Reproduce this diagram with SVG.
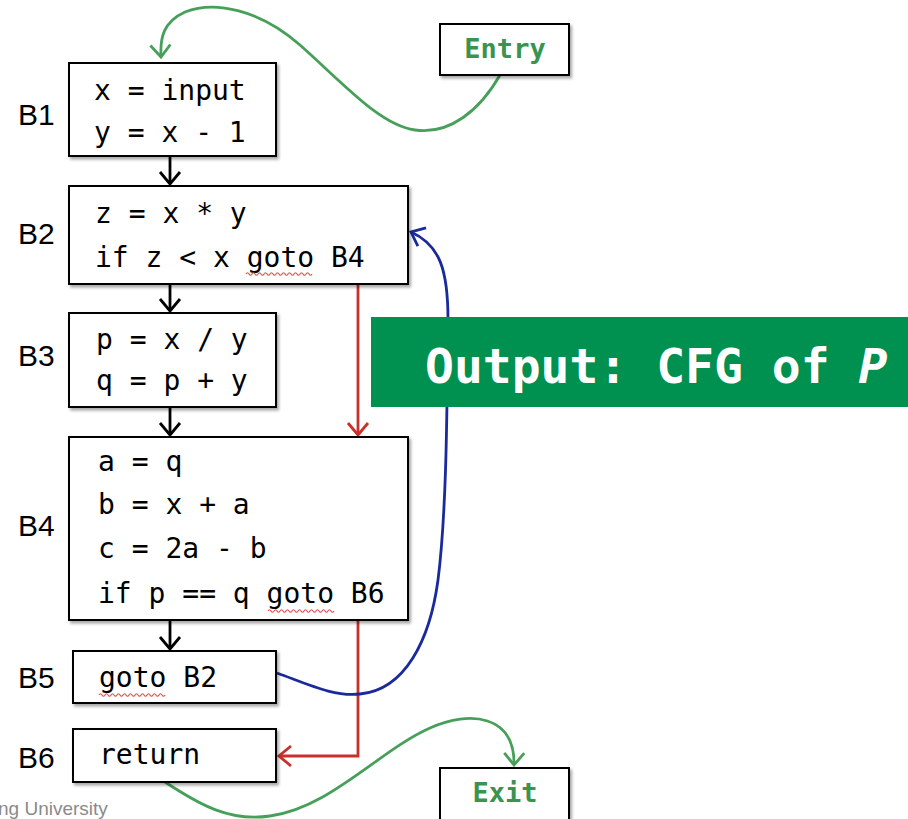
<svg xmlns="http://www.w3.org/2000/svg" width="908" height="819" viewBox="0 0 908 819">
  <style>
    .box { fill: #ffffff; stroke: #000000; stroke-width: 2; filter: url(#shadow); }
    .code { font-family: "DejaVu Sans Mono", "Liberation Mono", monospace; font-size: 28px; fill: #000000; }
    .lbl { font-family: "Liberation Sans", Arial, sans-serif; font-size: 30px; fill: #000000; }
    .term { font-family: "DejaVu Sans Mono", "Liberation Mono", monospace; font-size: 27px; font-weight: bold; fill: #3a944f; text-anchor: middle; }
    .squig { fill: none; stroke: #e0504a; stroke-width: 1.2; }
    .flow { fill: none; stroke: #000000; stroke-width: 2.8; marker-end: url(#ah-black); }
    .jump { fill: none; stroke: #c9302c; stroke-width: 2.8; marker-end: url(#ah-red); }
    .back { fill: none; stroke: #1a2a9c; stroke-width: 2.8; marker-end: url(#ah-blue); }
    .io { fill: none; stroke: #47a05a; stroke-width: 2.8; marker-end: url(#ah-green); }
  </style>
  <defs>
    <filter id="shadow" x="-10%" y="-10%" width="125%" height="130%">
      <feDropShadow dx="2" dy="2.5" stdDeviation="1.5" flood-color="#000000" flood-opacity="0.35"/>
    </filter>
    <marker id="ah-black" markerUnits="userSpaceOnUse" viewBox="-1 -1 16 24" refX="13" refY="11" markerWidth="16" markerHeight="24" orient="auto">
      <path d="M1,1 L13,11 L1,21" fill="none" stroke="#000000" stroke-width="2.8"/>
    </marker>
    <marker id="ah-red" markerUnits="userSpaceOnUse" viewBox="-1 -1 16 24" refX="13" refY="11" markerWidth="16" markerHeight="24" orient="auto">
      <path d="M1,1 L13,11 L1,21" fill="none" stroke="#c9302c" stroke-width="2.8"/>
    </marker>
    <marker id="ah-blue" markerUnits="userSpaceOnUse" viewBox="-1 -1 16 24" refX="13" refY="11" markerWidth="16" markerHeight="24" orient="auto">
      <path d="M1,1 L13,11 L1,21" fill="none" stroke="#1a2a9c" stroke-width="2.8"/>
    </marker>
    <marker id="ah-green" markerUnits="userSpaceOnUse" viewBox="-1 -1 16 24" refX="13" refY="11" markerWidth="16" markerHeight="24" orient="auto">
      <path d="M1,1 L13,11 L1,21" fill="none" stroke="#47a05a" stroke-width="2.8"/>
    </marker>
    <path id="wave" d="M0,0 q1.5,-2.5 3,0 t3,0 t3,0 t3,0 t3,0 t3,0 t3,0 t3,0 t3,0 t3,0 t3,0 t3,0 t3,0 t3,0 t3,0 t3,0 t3,0 t3,0 t3,0 t3,0 t3,0 t3,0"/>
  </defs>

  <!-- connectors -->
  <g id="connectors">
    <path class="flow" d="M170,156 L170,184"/>
    <path class="flow" d="M170,284 L170,311"/>
    <path class="flow" d="M170,407 L170,435"/>
    <path class="flow" d="M170,620 L170,649"/>
    <path class="jump" d="M358,285 L358,435"/>
    <path class="jump" d="M358,620 L358,756 L279,756"/>
    <path class="back" d="M277,673 C310,685 335,697 360,694 C405,690 430,640 438,580 C447,510 447,400 448,320 C448,270 440,245 411,232"/>
    <path class="io" d="M500,75 C480,110 450,135 415,130 C380,125 345,85 300,45 C260,10 215,0 185,12 C163,22 160,38 161,57"/>
    <path class="io" d="M165,782 C200,805 230,822 270,816 C330,808 380,750 430,728 C470,710 515,715 514,765"/>
  </g>

  <!-- terminal nodes -->
  <g id="entry">
    <rect class="box" x="440" y="24" width="129" height="51"/>
    <text class="term" x="505" y="58">Entry</text>
  </g>
  <g id="exit">
    <rect class="box" x="440" y="768" width="129" height="60"/>
    <text class="term" x="505" y="802">Exit</text>
  </g>

  <!-- basic blocks -->
  <g id="B1">
    <text class="lbl" x="18" y="125">B1</text>
    <rect class="box" x="69" y="63" width="207" height="93"/>
    <text class="code" x="94" y="100">x = input</text>
    <text class="code" x="94" y="142">y = x - 1</text>
  </g>
  <g id="B2">
    <text class="lbl" x="18" y="244">B2</text>
    <rect class="box" x="69" y="186" width="339" height="98"/>
    <text class="code" x="95" y="223">z = x * y</text>
    <text class="code" x="95" y="267">if z &lt; x goto B4</text>
    <use href="#wave" class="squig" x="246" y="274"/>
  </g>
  <g id="B3">
    <text class="lbl" x="18" y="366">B3</text>
    <rect class="box" x="69" y="313" width="207" height="94"/>
    <text class="code" x="96" y="349">p = x / y</text>
    <text class="code" x="96" y="390">q = p + y</text>
  </g>
  <g id="B4">
    <text class="lbl" x="18" y="536">B4</text>
    <rect class="box" x="69" y="437" width="339" height="183"/>
    <text class="code" x="98" y="471">a = q</text>
    <text class="code" x="98" y="514">b = x + a</text>
    <text class="code" x="98" y="558">c = 2a - b</text>
    <text class="code" x="98" y="603">if p == q goto B6</text>
    <use href="#wave" class="squig" x="268" y="611"/>
  </g>
  <g id="B5">
    <text class="lbl" x="18" y="688">B5</text>
    <rect class="box" x="73" y="651" width="203" height="52"/>
    <text class="code" x="99" y="687">goto B2</text>
    <use href="#wave" class="squig" x="99" y="695"/>
  </g>
  <g id="B6">
    <text class="lbl" x="18" y="768">B6</text>
    <rect class="box" x="73" y="729" width="203" height="53"/>
    <text class="code" x="99" y="764">return</text>
  </g>

  <!-- caption banner -->
  <g id="caption">
    <rect x="371" y="317" width="545" height="90" fill="#00904f"/>
    <text x="425" y="383" font-family="'DejaVu Sans Mono', 'Liberation Mono', monospace" font-size="48" font-weight="bold" fill="#ffffff">Output: CFG of <tspan font-style="italic">P</tspan></text>
  </g>

  <!-- footer -->
  <text x="-2" y="815" font-family="'Liberation Sans', Arial, sans-serif" font-size="19" fill="#8a8a8a">ng University</text>
</svg>
